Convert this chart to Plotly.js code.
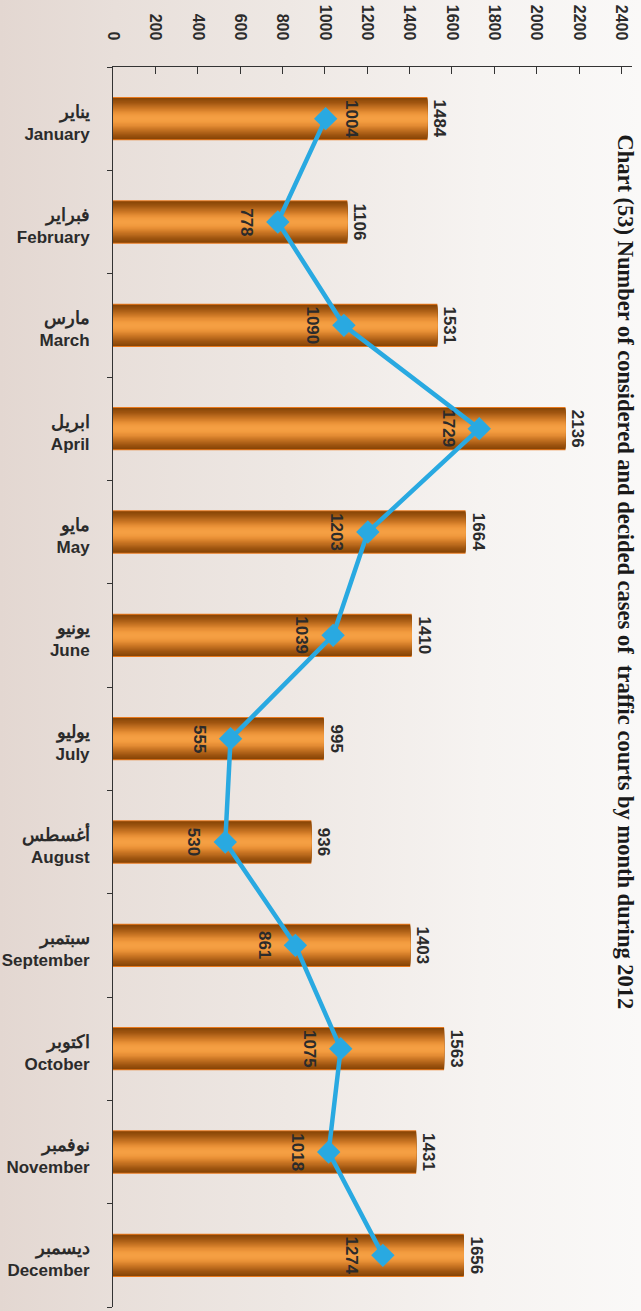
<!DOCTYPE html>
<html>
<head>
<meta charset="utf-8">
<script src="https://cdn.plot.ly/plotly-3.0.1.min.js"></script>
<style>
  html, body { margin: 0; padding: 0; overflow: hidden; }
  #chart { width: 641px; height: 1311px;
    background: linear-gradient(to right, #e3d7d1 0%, #e8dfda 18%, #eee8e4 45%, #f6f3f1 75%, #faf9f8 100%); }
</style>
</head>
<body>
<div id="chart"></div>
<script>
// ---- data ----
const monthsEn = ["January","February","March","April","May","June","July","August","September","October","November","December"];
const monthsAr = ["يناير","فبراير","مارس","ابريل","مايو","يونيو","يوليو","أغسطس","سبتمبر","اكتوبر","نوفمبر","ديسمبر"];
const consideredCases = [1484, 1106, 1531, 2136, 1664, 1410, 995, 936, 1403, 1563, 1431, 1656];
const decidedCases = [1004, 778, 1090, 1729, 1203, 1039, 555, 530, 861, 1075, 1018, 1274];
const xTickVals = [0,200,400,600,800,1000,1200,1400,1600,1800,2000,2200,2400];
const titleText = "Chart (53) Number of considered and decided cases of  traffic courts by month during 2012";

// ---- style ----
const textColor = "#2b2b2b";
const fontFam = "Liberation Sans, Arial, Helvetica, sans-serif";
const tickText = monthsEn.map((m, i) =>
  '<span style="font-size:18px"><b>' + monthsAr[i] + "</b></span><br><b>" + m + "</b>");

// cylinder shading: colour stops from bar centre (t=0) to edge (t=1)
const stops = [
  [0.0, [246, 161, 69]], [0.2, [241, 154, 62]], [0.35, [228, 140, 52]],
  [0.5, [206, 121, 38]], [0.65, [184, 104, 28]], [0.8, [160, 86, 16]],
  [1.0, [136, 70, 7]]
];
function shadeAt(t) {
  for (let i = 1; i < stops.length; i++) {
    if (t <= stops[i][0]) {
      const [t0, c0] = stops[i - 1], [t1, c1] = stops[i];
      const f = (t - t0) / (t1 - t0);
      return "rgb(" + c0.map((v, j) => Math.round(v + (c1[j] - v) * f)).join(",") + ")";
    }
  }
  return "rgb(" + stops[stops.length - 1][1].join(",") + ")";
}
const barW = 0.40, nLayers = 20;
const shading = [{w: barW + 0.02, c: "#e8791c"}];
for (let k = 0; k < nLayers; k++) {
  const t = 1 - k / nLayers;
  shading.push({w: barW * t, c: shadeAt(t)});
}

const traces = shading.map((s, k) => ({
  type: "bar",
  orientation: "h",
  x: consideredCases,
  y: monthsEn,
  width: s.w,
  marker: {color: s.c, line: {width: 0}},
  text: k === 0 ? consideredCases.map(String) : undefined,
  textposition: k === 0 ? "outside" : "none",
  textangle: 90,
  constraintext: "none",
  cliponaxis: false,
  textfont: {family: fontFam, size: 17, color: textColor, weight: "bold"},
  hoverinfo: "skip",
  showlegend: false
}));

traces.push({
  type: "scatter",
  mode: "lines+markers",
  x: decidedCases,
  y: monthsEn,
  line: {color: "#29a9e1", width: 4.5},
  marker: {symbol: "diamond", size: 18, color: "#29a9e1"},
  cliponaxis: false,
  showlegend: false
});

const annotations = decidedCases.map((v, i) => ({
  x: v, y: monthsEn[i], xref: "x", yref: "y",
  text: String(v), showarrow: false, textangle: 90,
  xanchor: "center", yanchor: "middle",
  xshift: i === 0 ? 26 : -31,
  font: {family: fontFam, size: 17, color: textColor, weight: "bold"}
}));

annotations.push({
  text: "<b>" + titleText + "</b>",
  xref: "paper", yref: "paper",
  x: (640 - 113) / 519, y: (1307 - 572) / 1240,
  xanchor: "right", yanchor: "middle",
  textangle: 90, showarrow: false,
  font: {family: "Liberation Serif, Times New Roman, serif", size: 22.5, color: "#1a1a1a"}
});

const layout = {
  width: 641, height: 1311,
  margin: {l: 113, r: 9, t: 67, b: 4},
  paper_bgcolor: "rgba(0,0,0,0)",
  plot_bgcolor: "rgba(0,0,0,0)",
  barmode: "overlay",
  xaxis: {
    side: "top",
    range: [0, 2450],
    tickvals: xTickVals,
    ticktext: xTickVals.map(String),
    tickangle: 90,
    ticks: "inside", ticklen: 7, tickcolor: "#333",
    showline: true, linecolor: "#333", linewidth: 1,
    showgrid: false, zeroline: false,
    ticklabelstandoff: 20,
    tickfont: {family: fontFam, size: 16, color: textColor, weight: "bold"}
  },
  yaxis: {
    type: "category",
    categoryorder: "array", categoryarray: monthsEn,
    range: [11.5, -0.5],
    tickvals: monthsEn, ticktext: tickText,
    ticks: "outside", ticklen: 5, tickcolor: "#333", tickson: "boundaries",
    showline: true, linecolor: "#333", linewidth: 1,
    showgrid: false, zeroline: false,
    ticklabelstandoff: 19,
    ticklabelshift: -4,
    tickfont: {family: fontFam, size: 17, color: textColor}
  },
  annotations: annotations,
  font: {family: fontFam}
};

Plotly.newPlot("chart", traces, layout, {displayModeBar: false, staticPlot: true});
</script>
</body>
</html>
